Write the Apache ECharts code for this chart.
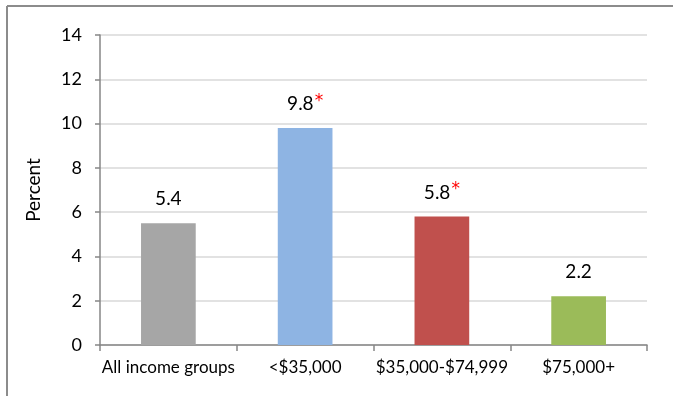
<!DOCTYPE html>
<html>
<head>
<meta charset="utf-8">
<script src="https://cdn.jsdelivr.net/npm/echarts@6/dist/echarts.min.js"></script>
<style>
html,body{margin:0;padding:0;background:#fff;}
#chart{width:673px;height:396px;}
</style>
</head>
<body>
<div id="chart"></div>
<script>
// Data
var categories = ['All income groups', '<$35,000', '$35,000-$74,999', '$75,000+'];
var values = [5.5, 9.8, 5.8, 2.2];
var valueLabels = ['5.4', '9.8', '5.8', '2.2'];
var significant = [false, true, true, false];
var yTicks = [0, 2, 4, 6, 8, 10, 12, 14];

// Styles
var barColors = ['#A6A6A6', '#8EB4E3', '#C0504D', '#9BBB59'];
var FONT = 'Lato';

var chart = echarts.init(document.getElementById('chart'));
var seriesData = values.map(function (v, i) {
  return { value: v, itemStyle: { color: barColors[i] } };
});

chart.setOption({
  animation: false,
  backgroundColor: '#fff',
  grid: { left: 100, right: 26, top: 35, bottom: 51, containLabel: false },
  xAxis: {
    type: 'category',
    data: categories,
    axisLine: { show: true, lineStyle: { color: '#868686', width: 1.5 } },
    axisTick: { show: true, length: 6, alignWithLabel: false, lineStyle: { color: '#868686', width: 1.5 } },
    axisLabel: { color: '#000', fontFamily: FONT, fontSize: 17, margin: 14, interval: 0 }
  },
  yAxis: {
    type: 'value',
    min: yTicks[0],
    max: yTicks[yTicks.length - 1],
    interval: yTicks[1] - yTicks[0],
    name: 'Percent',
    nameLocation: 'middle',
    nameRotate: 90,
    nameGap: 57,
    nameTextStyle: { color: '#000', fontFamily: FONT, fontSize: 19 },
    axisLine: { show: true, lineStyle: { color: '#868686', width: 1.5 } },
    axisTick: { show: true, inside: false, length: 5, lineStyle: { color: '#868686', width: 1.5 } },
    axisLabel: { color: '#000', fontFamily: FONT, fontSize: 18, margin: 18 },
    splitLine: { show: true, lineStyle: { color: '#d9d9d9', width: 1.5 } }
  },
  series: [{
    type: 'bar',
    data: seriesData,
    barCategoryGap: '60%',
    label: {
      show: true,
      position: 'top',
      distance: 13,
      formatter: function (p) {
        var i = p.dataIndex;
        return '{v|' + valueLabels[i] + '}' + (significant[i] ? '{s|*}' : '');
      },
      rich: {
        v: { color: '#000', fontFamily: FONT, fontSize: 19, lineHeight: 22 },
        s: { color: '#FF0000', fontFamily: 'DejaVu Sans', fontSize: 17, lineHeight: 22, verticalAlign: 'top', padding: [0, 0, 0, 1] }
      }
    }
  }],
  graphic: [
    { type: 'line', shape: { x1: 7, y1: 6, x2: 673, y2: 6 }, style: { stroke: '#8c8c8c', lineWidth: 2 }, silent: true },
    { type: 'line', shape: { x1: 7, y1: 6, x2: 7, y2: 396 }, style: { stroke: '#8c8c8c', lineWidth: 2 }, silent: true }
  ]
});
</script>
</body>
</html>
